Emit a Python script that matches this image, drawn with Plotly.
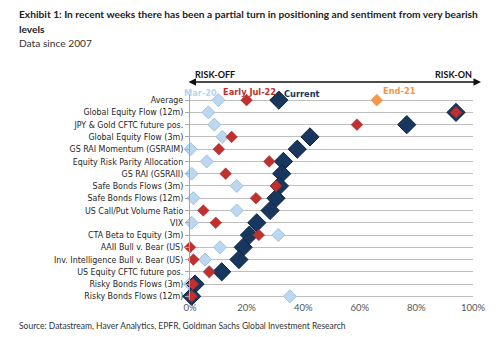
import plotly.graph_objects as go

categories = ["Average", "Global Equity Flow (12m)", "JPY & Gold CFTC future pos.",
              "Global Equity Flow (3m)", "GS RAI Momentum (GSRAIM)", "Equity Risk Parity Allocation",
              "GS RAI (GSRAII)", "Safe Bonds Flows (3m)", "Safe Bonds Flows (12m)",
              "US Call/Put Volume Ratio", "VIX", "CTA Beta to Equity (3m)", "AAII Bull v. Bear (US)",
              "Inv. Intelligence Bull v. Bear (US)", "US Equity CFTC future pos.",
              "Risky Bonds Flows (3m)", "Risky Bonds Flows (12m)"]
mar20 = [0.10, 0.065, 0.086, 0.114, 0.002, 0.059, 0.006, 0.165, 0.012, 0.165, 0.006, 0.312,
         0.106, 0.053, 0.068, 0.0, 0.353]
jul22 = [0.20, 0.94, 0.59, 0.147, 0.102, 0.28, 0.126, 0.304, 0.233, 0.047, 0.091, 0.243,
         0.0, 0.012, 0.068, 0.01, 0.006]
current = [0.314, 0.94, 0.766, 0.424, 0.379, 0.33, 0.324, 0.316, 0.304, 0.283, 0.236, 0.21,
           0.188, 0.173, 0.112, 0.018, 0.006]
end21 = [0.66]
x_ticks = [0, 0.2, 0.4, 0.6, 0.8, 1.0]
x_tick_labels = ["0%", "20%", "40%", "60%", "80%", "100%"]

COND = "DejaVu Sans Condensed, sans-serif"
LATO = "Lato, sans-serif"
NAVY = "#17375E"
RED = "#C0302E"
LBLUE = "#BDD7EE"
ORANGE = "#F79646"

ypos = list(range(len(categories)))

fig = go.Figure()
fig.add_trace(go.Scatter(x=mar20, y=ypos, mode="markers", cliponaxis=False,
                         marker=dict(symbol="diamond", size=10, color=LBLUE,
                                     line=dict(color="#9DC3E6", width=1))))
fig.add_trace(go.Scatter(x=current, y=ypos, mode="markers", cliponaxis=False,
                         marker=dict(symbol="diamond", size=14, color=NAVY,
                                     line=dict(color="#0F243E", width=1))))
fig.add_trace(go.Scatter(x=jul22, y=ypos, mode="markers", cliponaxis=False,
                         marker=dict(symbol="diamond", size=9, color=RED,
                                     line=dict(color="#A52A2A", width=0.5))))
fig.add_trace(go.Scatter(x=end21, y=[0], mode="markers", cliponaxis=False,
                         marker=dict(symbol="diamond", size=9, color=ORANGE,
                                     line=dict(color="#E67E22", width=0.5))))

L, R, T, B = 190, 27, 94, 37
W, H = 500, 337
pw, ph = W - L - R, H - T - B

def px(x):
    return (x - L) / pw

def py(y):
    return (H - B - y) / ph

ann = []
ann.append(dict(x=px(17), y=py(14), xref="paper", yref="paper", xanchor="left", yanchor="middle",
                showarrow=False, align="left",
                text="<b>Exhibit 1: In recent weeks there has been a partial turn in positioning and sentiment from very bearish</b>",
                font=dict(family=LATO, size=10.2, color="#222222")))
ann.append(dict(x=px(17), y=py(29), xref="paper", yref="paper", xanchor="left", yanchor="middle",
                showarrow=False, text="<b>levels</b>",
                font=dict(family=LATO, size=10.2, color="#222222")))
ann.append(dict(x=px(17), y=py(43), xref="paper", yref="paper", xanchor="left", yanchor="middle",
                showarrow=False, text="Data since 2007",
                font=dict(family=LATO, size=10.2, color="#333333")))
ann.append(dict(x=px(17), y=py(326), xref="paper", yref="paper", xanchor="left", yanchor="middle",
                showarrow=False,
                text="Source: Datastream, Haver Analytics, EPFR, Goldman Sachs Global Investment Research",
                font=dict(family=LATO, size=8.5, color="#333333")))
# risk arrow (double-headed)
ann.append(dict(x=px(481), y=py(82), xref="paper", yref="paper", ax=187 - 481, ay=0,
                showarrow=True, arrowhead=2, startarrowhead=2, arrowside="end+start",
                arrowsize=1, startarrowsize=1, arrowwidth=1.5, arrowcolor="#111111", text=""))
ann.append(dict(x=px(193), y=py(74), xref="paper", yref="paper", xanchor="left", yanchor="middle",
                showarrow=False, text="<b>RISK-OFF</b>", font=dict(family=LATO, size=9, color="#111111")))
ann.append(dict(x=px(474), y=py(74), xref="paper", yref="paper", xanchor="right", yanchor="middle",
                showarrow=False, text="<b>RISK-ON</b>", font=dict(family=LATO, size=9, color="#111111")))
# legend labels
for txt, xc, yc, col in [("Mar-20", 200, 92, "#B7D4EA"), ("Early Jul-22", 249, 91, RED),
                         ("Current", 302, 93, NAVY), ("End-21", 399, 90, ORANGE)]:
    ann.append(dict(x=px(xc), y=py(yc), xref="paper", yref="paper", xanchor="center", yanchor="middle",
                    showarrow=False, text="<b>" + txt + "</b>", font=dict(family=COND, size=9.2, color=col)))

fig.update_layout(
    width=W, height=H, margin=dict(l=L, r=R, t=T, b=B),
    paper_bgcolor="white", plot_bgcolor="white", showlegend=False,
    annotations=ann,
    xaxis=dict(range=[0, 1], tickvals=x_ticks, ticktext=x_tick_labels, showgrid=False,
               zeroline=False, showline=False, ticks="",
               tickfont=dict(family=LATO, size=9.5, color="#555555")),
    yaxis=dict(range=[16.3, -0.5], tickvals=ypos, ticktext=categories, showgrid=True,
               gridcolor="#BFBFBF", gridwidth=1, zeroline=False, showline=True,
               linecolor="#A6A6A6", linewidth=1, ticks="outside", ticklen=4, tickcolor="#A6A6A6",
               tickfont=dict(family=COND, size=8.8, color="#262626")),
)
fig.update_yaxes(tickprefix="<b>", ticksuffix="</b>")
fig.write_html("out.html")
